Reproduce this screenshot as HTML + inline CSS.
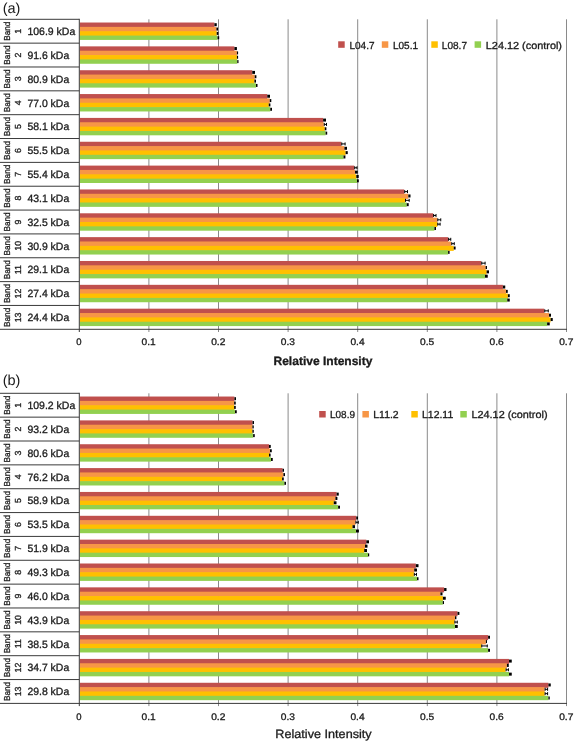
<!DOCTYPE html>
<html lang="en">
<head>
<meta charset="utf-8">
<title>Relative Intensity of protein bands</title>
<style>
html,body{margin:0;padding:0;background:#fff;}
body{width:576px;height:741px;overflow:hidden;}
svg{display:block;will-change:transform;}
svg text{font-family:"Liberation Sans",Arial,sans-serif;stroke:#1a1a1a;stroke-width:0.3px;text-rendering:geometricPrecision;}
</style>
</head>
<body>
<svg width="576" height="741" viewBox="0 0 576 741">
<rect x="0" y="0" width="576" height="741" fill="#ffffff"/>
<g>
<line x1="148.9" y1="19.3" x2="148.9" y2="332" stroke="#8a8a8a" stroke-width="1"/>
<line x1="218.5" y1="19.3" x2="218.5" y2="332" stroke="#8a8a8a" stroke-width="1"/>
<line x1="288.1" y1="19.3" x2="288.1" y2="332" stroke="#8a8a8a" stroke-width="1"/>
<line x1="357.7" y1="19.3" x2="357.7" y2="332" stroke="#8a8a8a" stroke-width="1"/>
<line x1="427.3" y1="19.3" x2="427.3" y2="332" stroke="#8a8a8a" stroke-width="1"/>
<line x1="496.9" y1="19.3" x2="496.9" y2="332" stroke="#8a8a8a" stroke-width="1"/>
<line x1="566.5" y1="19.3" x2="566.5" y2="332" stroke="#8a8a8a" stroke-width="1"/>
<rect x="79.8" y="22.52" width="134.6" height="5.05" fill="#C0504D"/>
<rect x="79.8" y="26.87" width="136.6" height="5.05" fill="#F79646"/>
<rect x="79.8" y="31.22" width="136.9" height="5.05" fill="#FFC000"/>
<rect x="79.8" y="35.57" width="137.7" height="4.35" fill="#92D050"/>
<rect x="214.4" y="23.2" width="2.35" height="3" fill="#000"/>
<rect x="216.4" y="27.55" width="1.6" height="3" fill="#000"/>
<rect x="216.7" y="31.9" width="1.7" height="3" fill="#000"/>
<rect x="217.5" y="36.25" width="1.7" height="3" fill="#000"/>
<rect x="79.8" y="46.37" width="154.6" height="5.05" fill="#C0504D"/>
<rect x="79.8" y="50.72" width="157.1" height="5.05" fill="#F79646"/>
<rect x="79.8" y="55.07" width="157.1" height="5.05" fill="#FFC000"/>
<rect x="79.8" y="59.42" width="157.45" height="4.35" fill="#92D050"/>
<rect x="234.4" y="47.04" width="2.5" height="3" fill="#000"/>
<rect x="236.9" y="51.39" width="1.2" height="3" fill="#000"/>
<rect x="236.9" y="55.74" width="1.2" height="3" fill="#000"/>
<rect x="237.25" y="60.09" width="1.25" height="3" fill="#000"/>
<rect x="79.8" y="70.22" width="172.45" height="5.05" fill="#C0504D"/>
<rect x="79.8" y="74.57" width="174.95" height="5.05" fill="#F79646"/>
<rect x="79.8" y="78.92" width="174.6" height="5.05" fill="#FFC000"/>
<rect x="79.8" y="83.27" width="176.2" height="4.35" fill="#92D050"/>
<rect x="252.25" y="70.89" width="2.75" height="3" fill="#000"/>
<rect x="254.75" y="75.24" width="1.65" height="3" fill="#000"/>
<rect x="254.4" y="79.59" width="1.6" height="3" fill="#000"/>
<rect x="256" y="83.94" width="1.5" height="3" fill="#000"/>
<rect x="79.8" y="94.06" width="187.45" height="5.05" fill="#C0504D"/>
<rect x="79.8" y="98.41" width="189.95" height="5.05" fill="#F79646"/>
<rect x="79.8" y="102.76" width="188.95" height="5.05" fill="#FFC000"/>
<rect x="79.8" y="107.11" width="190.45" height="4.35" fill="#92D050"/>
<rect x="267.25" y="94.74" width="2.75" height="3" fill="#000"/>
<rect x="269.75" y="99.09" width="1.55" height="3" fill="#000"/>
<rect x="268.75" y="103.44" width="1.65" height="3" fill="#000"/>
<rect x="270.25" y="107.79" width="1.75" height="3" fill="#000"/>
<rect x="79.8" y="117.91" width="243.3" height="5.05" fill="#C0504D"/>
<rect x="79.8" y="122.26" width="243.95" height="5.05" fill="#F79646"/>
<rect x="79.8" y="126.61" width="244.95" height="5.05" fill="#FFC000"/>
<rect x="79.8" y="130.96" width="245.8" height="4.35" fill="#92D050"/>
<rect x="323.1" y="118.58" width="2.9" height="3" fill="#000"/>
<path d="M324.25 122.93v3M326.5 122.93v3M324.25 124.43H326.5" stroke="#000" stroke-width="1" fill="none"/>
<rect x="324.75" y="127.28" width="1.65" height="3" fill="#000"/>
<rect x="325.6" y="131.63" width="1.6" height="3" fill="#000"/>
<rect x="79.8" y="141.75" width="261.45" height="5.05" fill="#C0504D"/>
<rect x="79.8" y="146.1" width="264.6" height="5.05" fill="#F79646"/>
<rect x="79.8" y="150.45" width="265.8" height="5.05" fill="#FFC000"/>
<rect x="79.8" y="154.8" width="263.7" height="4.35" fill="#92D050"/>
<path d="M341.75 142.43v3M345.1 142.43v3M341.75 143.93H345.1" stroke="#000" stroke-width="1" fill="none"/>
<rect x="344.4" y="146.78" width="2.6" height="3" fill="#000"/>
<rect x="345.6" y="151.13" width="2.15" height="3" fill="#000"/>
<rect x="343.5" y="155.48" width="1.9" height="3" fill="#000"/>
<rect x="79.8" y="165.6" width="274.4" height="5.05" fill="#C0504D"/>
<rect x="79.8" y="169.95" width="275.2" height="5.05" fill="#F79646"/>
<rect x="79.8" y="174.3" width="276.5" height="5.05" fill="#FFC000"/>
<rect x="79.8" y="178.65" width="277.2" height="4.35" fill="#92D050"/>
<path d="M354.7 166.28v3M357 166.28v3M354.7 167.78H357" stroke="#000" stroke-width="1" fill="none"/>
<rect x="355" y="170.63" width="2.8" height="3" fill="#000"/>
<rect x="356.3" y="174.98" width="2.4" height="3" fill="#000"/>
<rect x="357" y="179.33" width="1.8" height="3" fill="#000"/>
<rect x="79.8" y="189.45" width="324.4" height="5.05" fill="#C0504D"/>
<rect x="79.8" y="193.8" width="328.5" height="5.05" fill="#F79646"/>
<rect x="79.8" y="198.15" width="325.2" height="5.05" fill="#FFC000"/>
<rect x="79.8" y="202.5" width="326.9" height="4.35" fill="#92D050"/>
<path d="M404.7 190.12v3M407.5 190.12v3M404.7 191.62H407.5" stroke="#000" stroke-width="1" fill="none"/>
<rect x="408.3" y="194.47" width="2.2" height="3" fill="#000"/>
<path d="M405.5 198.82v3M409.2 198.82v3M405.5 200.32H409.2" stroke="#000" stroke-width="1" fill="none"/>
<rect x="406.7" y="203.17" width="2" height="3" fill="#000"/>
<rect x="79.8" y="213.29" width="353.3" height="5.05" fill="#C0504D"/>
<rect x="79.8" y="217.64" width="357.45" height="5.05" fill="#F79646"/>
<rect x="79.8" y="221.99" width="357.45" height="5.05" fill="#FFC000"/>
<rect x="79.8" y="226.34" width="354.6" height="4.35" fill="#92D050"/>
<path d="M433.6 213.97v3M436 213.97v3M433.6 215.47H436" stroke="#000" stroke-width="1" fill="none"/>
<path d="M437.75 218.32v3M440.75 218.32v3M437.75 219.82H440.75" stroke="#000" stroke-width="1" fill="none"/>
<path d="M437.75 222.67v3M440.1 222.67v3M437.75 224.17H440.1" stroke="#000" stroke-width="1" fill="none"/>
<rect x="434.4" y="227.02" width="1.6" height="3" fill="#000"/>
<rect x="79.8" y="237.14" width="368.3" height="5.05" fill="#C0504D"/>
<rect x="79.8" y="241.49" width="371.45" height="5.05" fill="#F79646"/>
<rect x="79.8" y="245.84" width="373.95" height="5.05" fill="#FFC000"/>
<rect x="79.8" y="250.19" width="368.3" height="4.35" fill="#92D050"/>
<path d="M448.6 237.81v3M450.75 237.81v3M448.6 239.31H450.75" stroke="#000" stroke-width="1" fill="none"/>
<path d="M451.75 242.16v3M454.25 242.16v3M451.75 243.66H454.25" stroke="#000" stroke-width="1" fill="none"/>
<rect x="453.75" y="246.51" width="1.85" height="3" fill="#000"/>
<rect x="448.1" y="250.86" width="1.5" height="3" fill="#000"/>
<rect x="79.8" y="260.98" width="401.45" height="5.05" fill="#C0504D"/>
<rect x="79.8" y="265.33" width="405.8" height="5.05" fill="#F79646"/>
<rect x="79.8" y="269.68" width="406.8" height="5.05" fill="#FFC000"/>
<rect x="79.8" y="274.03" width="405.2" height="4.35" fill="#92D050"/>
<path d="M481.75 261.66v3M485.1 261.66v3M481.75 263.16H485.1" stroke="#000" stroke-width="1" fill="none"/>
<rect x="485.6" y="266.01" width="1.4" height="3" fill="#000"/>
<rect x="486.6" y="270.36" width="2.4" height="3" fill="#000"/>
<rect x="485" y="274.71" width="2.75" height="3" fill="#000"/>
<rect x="79.8" y="284.83" width="423.1" height="5.05" fill="#C0504D"/>
<rect x="79.8" y="289.18" width="426.2" height="5.05" fill="#F79646"/>
<rect x="79.8" y="293.53" width="428.1" height="5.05" fill="#FFC000"/>
<rect x="79.8" y="297.88" width="427.45" height="4.35" fill="#92D050"/>
<rect x="502.9" y="285.51" width="2.35" height="3" fill="#000"/>
<rect x="506" y="289.86" width="1.75" height="3" fill="#000"/>
<rect x="507.9" y="294.21" width="1.85" height="3" fill="#000"/>
<rect x="507.25" y="298.56" width="2.5" height="3" fill="#000"/>
<rect x="79.8" y="308.68" width="464.45" height="5.05" fill="#C0504D"/>
<rect x="79.8" y="313.03" width="469.2" height="5.05" fill="#F79646"/>
<rect x="79.8" y="317.38" width="470.8" height="5.05" fill="#FFC000"/>
<rect x="79.8" y="321.73" width="467.3" height="4.35" fill="#92D050"/>
<path d="M544.75 309.35v3M548.25 309.35v3M544.75 310.85H548.25" stroke="#000" stroke-width="1" fill="none"/>
<rect x="549" y="313.7" width="2" height="3" fill="#000"/>
<rect x="550.6" y="318.05" width="2.15" height="3" fill="#000"/>
<rect x="547.1" y="322.4" width="2.65" height="3" fill="#000"/>
<line x1="0" y1="19.3" x2="79.3" y2="19.3" stroke="#3a3a3a" stroke-width="1"/>
<line x1="0" y1="43.15" x2="79.3" y2="43.15" stroke="#3a3a3a" stroke-width="1"/>
<line x1="0" y1="66.99" x2="79.3" y2="66.99" stroke="#3a3a3a" stroke-width="1"/>
<line x1="0" y1="90.84" x2="79.3" y2="90.84" stroke="#3a3a3a" stroke-width="1"/>
<line x1="0" y1="114.68" x2="79.3" y2="114.68" stroke="#3a3a3a" stroke-width="1"/>
<line x1="0" y1="138.53" x2="79.3" y2="138.53" stroke="#3a3a3a" stroke-width="1"/>
<line x1="0" y1="162.38" x2="79.3" y2="162.38" stroke="#3a3a3a" stroke-width="1"/>
<line x1="0" y1="186.22" x2="79.3" y2="186.22" stroke="#3a3a3a" stroke-width="1"/>
<line x1="0" y1="210.07" x2="79.3" y2="210.07" stroke="#3a3a3a" stroke-width="1"/>
<line x1="0" y1="233.92" x2="79.3" y2="233.92" stroke="#3a3a3a" stroke-width="1"/>
<line x1="0" y1="257.76" x2="79.3" y2="257.76" stroke="#3a3a3a" stroke-width="1"/>
<line x1="0" y1="281.61" x2="79.3" y2="281.61" stroke="#3a3a3a" stroke-width="1"/>
<line x1="0" y1="305.45" x2="79.3" y2="305.45" stroke="#3a3a3a" stroke-width="1"/>
<line x1="79.3" y1="18.8" x2="79.3" y2="332" stroke="#3a3a3a" stroke-width="1"/>
<line x1="0" y1="329.3" x2="567" y2="329.3" stroke="#3a3a3a" stroke-width="1"/>
<text transform="translate(9.9 31.22) rotate(-90)" x="-9.6" textLength="19.2" lengthAdjust="spacingAndGlyphs" font-size="8.7" fill="#1a1a1a">Band</text>
<text transform="translate(21.4 31.22) rotate(-90)" text-anchor="middle" font-size="8.8" fill="#1a1a1a">1</text>
<text x="27.4" y="34.97" font-size="10.6" textLength="47.9" lengthAdjust="spacingAndGlyphs" fill="#1a1a1a">106.9 kDa</text>
<text transform="translate(9.9 55.07) rotate(-90)" x="-9.6" textLength="19.2" lengthAdjust="spacingAndGlyphs" font-size="8.7" fill="#1a1a1a">Band</text>
<text transform="translate(21.4 55.07) rotate(-90)" text-anchor="middle" font-size="8.8" fill="#1a1a1a">2</text>
<text x="27.4" y="58.82" font-size="10.6" textLength="41.8" lengthAdjust="spacingAndGlyphs" fill="#1a1a1a">91.6 kDa</text>
<text transform="translate(9.9 78.92) rotate(-90)" x="-9.6" textLength="19.2" lengthAdjust="spacingAndGlyphs" font-size="8.7" fill="#1a1a1a">Band</text>
<text transform="translate(21.4 78.92) rotate(-90)" text-anchor="middle" font-size="8.8" fill="#1a1a1a">3</text>
<text x="27.4" y="82.67" font-size="10.6" textLength="41.8" lengthAdjust="spacingAndGlyphs" fill="#1a1a1a">80.9 kDa</text>
<text transform="translate(9.9 102.76) rotate(-90)" x="-9.6" textLength="19.2" lengthAdjust="spacingAndGlyphs" font-size="8.7" fill="#1a1a1a">Band</text>
<text transform="translate(21.4 102.76) rotate(-90)" text-anchor="middle" font-size="8.8" fill="#1a1a1a">4</text>
<text x="27.4" y="106.51" font-size="10.6" textLength="41.8" lengthAdjust="spacingAndGlyphs" fill="#1a1a1a">77.0 kDa</text>
<text transform="translate(9.9 126.61) rotate(-90)" x="-9.6" textLength="19.2" lengthAdjust="spacingAndGlyphs" font-size="8.7" fill="#1a1a1a">Band</text>
<text transform="translate(21.4 126.61) rotate(-90)" text-anchor="middle" font-size="8.8" fill="#1a1a1a">5</text>
<text x="27.4" y="130.36" font-size="10.6" textLength="41.8" lengthAdjust="spacingAndGlyphs" fill="#1a1a1a">58.1 kDa</text>
<text transform="translate(9.9 150.45) rotate(-90)" x="-9.6" textLength="19.2" lengthAdjust="spacingAndGlyphs" font-size="8.7" fill="#1a1a1a">Band</text>
<text transform="translate(21.4 150.45) rotate(-90)" text-anchor="middle" font-size="8.8" fill="#1a1a1a">6</text>
<text x="27.4" y="154.2" font-size="10.6" textLength="41.8" lengthAdjust="spacingAndGlyphs" fill="#1a1a1a">55.5 kDa</text>
<text transform="translate(9.9 174.3) rotate(-90)" x="-9.6" textLength="19.2" lengthAdjust="spacingAndGlyphs" font-size="8.7" fill="#1a1a1a">Band</text>
<text transform="translate(21.4 174.3) rotate(-90)" text-anchor="middle" font-size="8.8" fill="#1a1a1a">7</text>
<text x="27.4" y="178.05" font-size="10.6" textLength="41.8" lengthAdjust="spacingAndGlyphs" fill="#1a1a1a">55.4 kDa</text>
<text transform="translate(9.9 198.15) rotate(-90)" x="-9.6" textLength="19.2" lengthAdjust="spacingAndGlyphs" font-size="8.7" fill="#1a1a1a">Band</text>
<text transform="translate(21.4 198.15) rotate(-90)" text-anchor="middle" font-size="8.8" fill="#1a1a1a">8</text>
<text x="27.4" y="201.9" font-size="10.6" textLength="41.8" lengthAdjust="spacingAndGlyphs" fill="#1a1a1a">43.1 kDa</text>
<text transform="translate(9.9 221.99) rotate(-90)" x="-9.6" textLength="19.2" lengthAdjust="spacingAndGlyphs" font-size="8.7" fill="#1a1a1a">Band</text>
<text transform="translate(21.4 221.99) rotate(-90)" text-anchor="middle" font-size="8.8" fill="#1a1a1a">9</text>
<text x="27.4" y="225.74" font-size="10.6" textLength="41.8" lengthAdjust="spacingAndGlyphs" fill="#1a1a1a">32.5 kDa</text>
<text transform="translate(9.9 245.84) rotate(-90)" x="-9.6" textLength="19.2" lengthAdjust="spacingAndGlyphs" font-size="8.7" fill="#1a1a1a">Band</text>
<text transform="translate(21.4 245.84) rotate(-90)" text-anchor="middle" font-size="8.8" fill="#1a1a1a">10</text>
<text x="27.4" y="249.59" font-size="10.6" textLength="41.8" lengthAdjust="spacingAndGlyphs" fill="#1a1a1a">30.9 kDa</text>
<text transform="translate(9.9 269.68) rotate(-90)" x="-9.6" textLength="19.2" lengthAdjust="spacingAndGlyphs" font-size="8.7" fill="#1a1a1a">Band</text>
<text transform="translate(21.4 269.68) rotate(-90)" text-anchor="middle" font-size="8.8" fill="#1a1a1a">11</text>
<text x="27.4" y="273.43" font-size="10.6" textLength="41.8" lengthAdjust="spacingAndGlyphs" fill="#1a1a1a">29.1 kDa</text>
<text transform="translate(9.9 293.53) rotate(-90)" x="-9.6" textLength="19.2" lengthAdjust="spacingAndGlyphs" font-size="8.7" fill="#1a1a1a">Band</text>
<text transform="translate(21.4 293.53) rotate(-90)" text-anchor="middle" font-size="8.8" fill="#1a1a1a">12</text>
<text x="27.4" y="297.28" font-size="10.6" textLength="41.8" lengthAdjust="spacingAndGlyphs" fill="#1a1a1a">27.4 kDa</text>
<text transform="translate(9.9 317.38) rotate(-90)" x="-9.6" textLength="19.2" lengthAdjust="spacingAndGlyphs" font-size="8.7" fill="#1a1a1a">Band</text>
<text transform="translate(21.4 317.38) rotate(-90)" text-anchor="middle" font-size="8.8" fill="#1a1a1a">13</text>
<text x="27.4" y="321.13" font-size="10.6" textLength="41.8" lengthAdjust="spacingAndGlyphs" fill="#1a1a1a">24.4 kDa</text>
<text x="78.8" y="345.1" text-anchor="middle" font-size="9.5" fill="#1a1a1a">0</text>
<text x="141.6" y="345.1" textLength="14.2" lengthAdjust="spacingAndGlyphs" font-size="9.5" fill="#1a1a1a">0.1</text>
<text x="211.2" y="345.1" textLength="14.2" lengthAdjust="spacingAndGlyphs" font-size="9.5" fill="#1a1a1a">0.2</text>
<text x="280.8" y="345.1" textLength="14.2" lengthAdjust="spacingAndGlyphs" font-size="9.5" fill="#1a1a1a">0.3</text>
<text x="350.4" y="345.1" textLength="14.2" lengthAdjust="spacingAndGlyphs" font-size="9.5" fill="#1a1a1a">0.4</text>
<text x="420" y="345.1" textLength="14.2" lengthAdjust="spacingAndGlyphs" font-size="9.5" fill="#1a1a1a">0.5</text>
<text x="489.6" y="345.1" textLength="14.2" lengthAdjust="spacingAndGlyphs" font-size="9.5" fill="#1a1a1a">0.6</text>
<text x="559.2" y="345.1" textLength="14.2" lengthAdjust="spacingAndGlyphs" font-size="9.5" fill="#1a1a1a">0.7</text>
<text x="273.5" y="365" font-size="12" font-weight="bold" textLength="98.9" lengthAdjust="spacingAndGlyphs" fill="#1a1a1a">Relative Intensity</text>
<rect x="338.2" y="41.3" width="6.5" height="6.5" fill="#C0504D"/>
<text x="349.5" y="48.5" font-size="10.2" textLength="25" lengthAdjust="spacingAndGlyphs" fill="#1a1a1a">L04.7</text>
<rect x="381.8" y="41.3" width="6.5" height="6.5" fill="#F79646"/>
<text x="393" y="48.5" font-size="10.2" textLength="25" lengthAdjust="spacingAndGlyphs" fill="#1a1a1a">L05.1</text>
<rect x="431.3" y="41.3" width="6.5" height="6.5" fill="#FFC000"/>
<text x="441.8" y="48.5" font-size="10.2" textLength="25.2" lengthAdjust="spacingAndGlyphs" fill="#1a1a1a">L08.7</text>
<rect x="474.6" y="41.3" width="6.5" height="6.5" fill="#92D050"/>
<text x="485.8" y="48.5" font-size="10.2" textLength="76.2" lengthAdjust="spacingAndGlyphs" fill="#1a1a1a">L24.12 (control)</text>
<text x="2.7" y="12.5" font-size="14.5" style="stroke:none" fill="#1a1a1a">(a)</text>
</g>
<g>
<line x1="148.9" y1="393.3" x2="148.9" y2="706.1" stroke="#8a8a8a" stroke-width="1"/>
<line x1="218.5" y1="393.3" x2="218.5" y2="706.1" stroke="#8a8a8a" stroke-width="1"/>
<line x1="288.1" y1="393.3" x2="288.1" y2="706.1" stroke="#8a8a8a" stroke-width="1"/>
<line x1="357.7" y1="393.3" x2="357.7" y2="706.1" stroke="#8a8a8a" stroke-width="1"/>
<line x1="427.3" y1="393.3" x2="427.3" y2="706.1" stroke="#8a8a8a" stroke-width="1"/>
<line x1="496.9" y1="393.3" x2="496.9" y2="706.1" stroke="#8a8a8a" stroke-width="1"/>
<line x1="566.5" y1="393.3" x2="566.5" y2="706.1" stroke="#8a8a8a" stroke-width="1"/>
<rect x="79.8" y="396.53" width="154.6" height="5.05" fill="#C0504D"/>
<rect x="79.8" y="400.88" width="154.3" height="5.05" fill="#F79646"/>
<rect x="79.8" y="405.23" width="154.3" height="5.05" fill="#FFC000"/>
<rect x="79.8" y="409.58" width="155.2" height="4.35" fill="#92D050"/>
<rect x="234.4" y="397.2" width="1.6" height="3" fill="#000"/>
<rect x="234.1" y="401.55" width="1.65" height="3" fill="#000"/>
<rect x="234.1" y="405.9" width="1.65" height="3" fill="#000"/>
<rect x="235" y="410.25" width="1.75" height="3" fill="#000"/>
<rect x="79.8" y="420.38" width="172.7" height="5.05" fill="#C0504D"/>
<rect x="79.8" y="424.73" width="172.6" height="5.05" fill="#F79646"/>
<rect x="79.8" y="429.08" width="172.6" height="5.05" fill="#FFC000"/>
<rect x="79.8" y="433.43" width="173.3" height="4.35" fill="#92D050"/>
<rect x="252.5" y="421.06" width="1.5" height="3" fill="#000"/>
<rect x="252.4" y="425.41" width="1.35" height="3" fill="#000"/>
<rect x="252.4" y="429.76" width="1.35" height="3" fill="#000"/>
<rect x="253.1" y="434.11" width="1.65" height="3" fill="#000"/>
<rect x="79.8" y="444.23" width="189.2" height="5.05" fill="#C0504D"/>
<rect x="79.8" y="448.58" width="190.2" height="5.05" fill="#F79646"/>
<rect x="79.8" y="452.93" width="189.2" height="5.05" fill="#FFC000"/>
<rect x="79.8" y="457.28" width="191.2" height="4.35" fill="#92D050"/>
<rect x="269" y="444.91" width="1.75" height="3" fill="#000"/>
<rect x="270" y="449.26" width="1.75" height="3" fill="#000"/>
<rect x="269" y="453.61" width="1.6" height="3" fill="#000"/>
<rect x="271" y="457.96" width="1.75" height="3" fill="#000"/>
<rect x="79.8" y="468.09" width="202.7" height="5.05" fill="#C0504D"/>
<rect x="79.8" y="472.44" width="203.6" height="5.05" fill="#F79646"/>
<rect x="79.8" y="476.79" width="202.3" height="5.05" fill="#FFC000"/>
<rect x="79.8" y="481.14" width="204.6" height="4.35" fill="#92D050"/>
<rect x="282.5" y="468.76" width="1.5" height="3" fill="#000"/>
<rect x="283.4" y="473.11" width="1.6" height="3" fill="#000"/>
<rect x="282.1" y="477.46" width="1.65" height="3" fill="#000"/>
<rect x="284.4" y="481.81" width="1.6" height="3" fill="#000"/>
<rect x="79.8" y="491.94" width="256.8" height="5.05" fill="#C0504D"/>
<rect x="79.8" y="496.29" width="255.6" height="5.05" fill="#F79646"/>
<rect x="79.8" y="500.64" width="253.95" height="5.05" fill="#FFC000"/>
<rect x="79.8" y="504.99" width="258.3" height="4.35" fill="#92D050"/>
<rect x="336.6" y="492.62" width="2.15" height="3" fill="#000"/>
<rect x="335.4" y="496.97" width="2" height="3" fill="#000"/>
<rect x="333.75" y="501.32" width="2.75" height="3" fill="#000"/>
<rect x="338.1" y="505.67" width="1.9" height="3" fill="#000"/>
<rect x="79.8" y="515.8" width="276.45" height="5.05" fill="#C0504D"/>
<rect x="79.8" y="520.15" width="275.6" height="5.05" fill="#F79646"/>
<rect x="79.8" y="524.5" width="272.7" height="5.05" fill="#FFC000"/>
<rect x="79.8" y="528.85" width="276.2" height="4.35" fill="#92D050"/>
<rect x="356.25" y="516.47" width="1.75" height="3" fill="#000"/>
<path d="M355.9 520.82v3M358.25 520.82v3M355.9 522.32H358.25" stroke="#000" stroke-width="1" fill="none"/>
<rect x="352.5" y="525.17" width="2.5" height="3" fill="#000"/>
<rect x="356" y="529.52" width="2.9" height="3" fill="#000"/>
<rect x="79.8" y="539.65" width="286.5" height="5.05" fill="#C0504D"/>
<rect x="79.8" y="544" width="285.2" height="5.05" fill="#F79646"/>
<rect x="79.8" y="548.35" width="284.4" height="5.05" fill="#FFC000"/>
<rect x="79.8" y="552.7" width="288.2" height="4.35" fill="#92D050"/>
<rect x="366.3" y="540.32" width="2.7" height="3" fill="#000"/>
<rect x="365" y="544.67" width="2.5" height="3" fill="#000"/>
<rect x="364.2" y="549.02" width="2.8" height="3" fill="#000"/>
<rect x="368" y="553.37" width="1.2" height="3" fill="#000"/>
<rect x="79.8" y="563.5" width="336" height="5.05" fill="#C0504D"/>
<rect x="79.8" y="567.85" width="334.4" height="5.05" fill="#F79646"/>
<rect x="79.8" y="572.2" width="334" height="5.05" fill="#FFC000"/>
<rect x="79.8" y="576.55" width="337.2" height="4.35" fill="#92D050"/>
<rect x="415.8" y="564.18" width="2.7" height="3" fill="#000"/>
<rect x="414.2" y="568.53" width="2.8" height="3" fill="#000"/>
<path d="M414.3 572.88v3M416.5 572.88v3M414.3 574.38H416.5" stroke="#000" stroke-width="1" fill="none"/>
<rect x="417" y="577.23" width="1.5" height="3" fill="#000"/>
<rect x="79.8" y="587.36" width="364.3" height="5.05" fill="#C0504D"/>
<rect x="79.8" y="591.71" width="360.6" height="5.05" fill="#F79646"/>
<rect x="79.8" y="596.06" width="363.1" height="5.05" fill="#FFC000"/>
<rect x="79.8" y="600.41" width="362.95" height="4.35" fill="#92D050"/>
<rect x="444.1" y="588.03" width="2.4" height="3" fill="#000"/>
<rect x="440.4" y="592.38" width="2.1" height="3" fill="#000"/>
<rect x="442.9" y="596.73" width="2.85" height="3" fill="#000"/>
<rect x="442.75" y="601.08" width="1.25" height="3" fill="#000"/>
<rect x="79.8" y="611.21" width="377.7" height="5.05" fill="#C0504D"/>
<rect x="79.8" y="615.56" width="375.2" height="5.05" fill="#F79646"/>
<rect x="79.8" y="619.91" width="374.6" height="5.05" fill="#FFC000"/>
<rect x="79.8" y="624.26" width="375.2" height="4.35" fill="#92D050"/>
<rect x="457.5" y="611.89" width="1.9" height="3" fill="#000"/>
<rect x="455" y="616.24" width="1.4" height="3" fill="#000"/>
<path d="M454.9 620.59v3M457.25 620.59v3M454.9 622.09H457.25" stroke="#000" stroke-width="1" fill="none"/>
<rect x="455" y="624.94" width="2.75" height="3" fill="#000"/>
<rect x="79.8" y="635.07" width="408.3" height="5.05" fill="#C0504D"/>
<rect x="79.8" y="639.42" width="406.1" height="5.05" fill="#F79646"/>
<rect x="79.8" y="643.77" width="401.45" height="5.05" fill="#FFC000"/>
<rect x="79.8" y="648.12" width="408.3" height="4.35" fill="#92D050"/>
<rect x="488.1" y="635.74" width="1.9" height="3" fill="#000"/>
<rect x="485.9" y="640.09" width="1.1" height="3" fill="#000"/>
<path d="M481.75 644.44v3M487.25 644.44v3M481.75 645.94H487.25" stroke="#000" stroke-width="1" fill="none"/>
<rect x="488.1" y="648.79" width="1.9" height="3" fill="#000"/>
<rect x="79.8" y="658.92" width="429.2" height="5.05" fill="#C0504D"/>
<rect x="79.8" y="663.27" width="427.1" height="5.05" fill="#F79646"/>
<rect x="79.8" y="667.62" width="425.8" height="5.05" fill="#FFC000"/>
<rect x="79.8" y="671.97" width="429.2" height="4.35" fill="#92D050"/>
<rect x="509" y="659.59" width="2.75" height="3" fill="#000"/>
<rect x="506.9" y="663.94" width="1.85" height="3" fill="#000"/>
<path d="M506.1 668.29v3M508.4 668.29v3M506.1 669.79H508.4" stroke="#000" stroke-width="1" fill="none"/>
<rect x="509" y="672.64" width="2.75" height="3" fill="#000"/>
<rect x="79.8" y="682.77" width="468.6" height="5.05" fill="#C0504D"/>
<rect x="79.8" y="687.12" width="464.8" height="5.05" fill="#F79646"/>
<rect x="79.8" y="691.47" width="464.8" height="5.05" fill="#FFC000"/>
<rect x="79.8" y="695.82" width="468.6" height="4.35" fill="#92D050"/>
<rect x="548.4" y="683.45" width="2.35" height="3" fill="#000"/>
<path d="M545.1 687.8v3M547.6 687.8v3M545.1 689.3H547.6" stroke="#000" stroke-width="1" fill="none"/>
<path d="M545.1 692.15v3M547.6 692.15v3M545.1 693.65H547.6" stroke="#000" stroke-width="1" fill="none"/>
<rect x="548.4" y="696.5" width="1.35" height="3" fill="#000"/>
<line x1="0" y1="393.3" x2="79.3" y2="393.3" stroke="#3a3a3a" stroke-width="1"/>
<line x1="0" y1="417.15" x2="79.3" y2="417.15" stroke="#3a3a3a" stroke-width="1"/>
<line x1="0" y1="441.01" x2="79.3" y2="441.01" stroke="#3a3a3a" stroke-width="1"/>
<line x1="0" y1="464.86" x2="79.3" y2="464.86" stroke="#3a3a3a" stroke-width="1"/>
<line x1="0" y1="488.72" x2="79.3" y2="488.72" stroke="#3a3a3a" stroke-width="1"/>
<line x1="0" y1="512.57" x2="79.3" y2="512.57" stroke="#3a3a3a" stroke-width="1"/>
<line x1="0" y1="536.42" x2="79.3" y2="536.42" stroke="#3a3a3a" stroke-width="1"/>
<line x1="0" y1="560.28" x2="79.3" y2="560.28" stroke="#3a3a3a" stroke-width="1"/>
<line x1="0" y1="584.13" x2="79.3" y2="584.13" stroke="#3a3a3a" stroke-width="1"/>
<line x1="0" y1="607.98" x2="79.3" y2="607.98" stroke="#3a3a3a" stroke-width="1"/>
<line x1="0" y1="631.84" x2="79.3" y2="631.84" stroke="#3a3a3a" stroke-width="1"/>
<line x1="0" y1="655.69" x2="79.3" y2="655.69" stroke="#3a3a3a" stroke-width="1"/>
<line x1="0" y1="679.55" x2="79.3" y2="679.55" stroke="#3a3a3a" stroke-width="1"/>
<line x1="79.3" y1="392.8" x2="79.3" y2="706.1" stroke="#3a3a3a" stroke-width="1"/>
<line x1="0" y1="703.4" x2="567" y2="703.4" stroke="#3a3a3a" stroke-width="1"/>
<text transform="translate(9.9 405.23) rotate(-90)" x="-9.6" textLength="19.2" lengthAdjust="spacingAndGlyphs" font-size="8.7" fill="#1a1a1a">Band</text>
<text transform="translate(21.4 405.23) rotate(-90)" text-anchor="middle" font-size="8.8" fill="#1a1a1a">1</text>
<text x="27.4" y="408.98" font-size="10.6" textLength="47.9" lengthAdjust="spacingAndGlyphs" fill="#1a1a1a">109.2 kDa</text>
<text transform="translate(9.9 429.08) rotate(-90)" x="-9.6" textLength="19.2" lengthAdjust="spacingAndGlyphs" font-size="8.7" fill="#1a1a1a">Band</text>
<text transform="translate(21.4 429.08) rotate(-90)" text-anchor="middle" font-size="8.8" fill="#1a1a1a">2</text>
<text x="27.4" y="432.83" font-size="10.6" textLength="41.8" lengthAdjust="spacingAndGlyphs" fill="#1a1a1a">93.2 kDa</text>
<text transform="translate(9.9 452.93) rotate(-90)" x="-9.6" textLength="19.2" lengthAdjust="spacingAndGlyphs" font-size="8.7" fill="#1a1a1a">Band</text>
<text transform="translate(21.4 452.93) rotate(-90)" text-anchor="middle" font-size="8.8" fill="#1a1a1a">3</text>
<text x="27.4" y="456.68" font-size="10.6" textLength="41.8" lengthAdjust="spacingAndGlyphs" fill="#1a1a1a">80.6 kDa</text>
<text transform="translate(9.9 476.79) rotate(-90)" x="-9.6" textLength="19.2" lengthAdjust="spacingAndGlyphs" font-size="8.7" fill="#1a1a1a">Band</text>
<text transform="translate(21.4 476.79) rotate(-90)" text-anchor="middle" font-size="8.8" fill="#1a1a1a">4</text>
<text x="27.4" y="480.54" font-size="10.6" textLength="41.8" lengthAdjust="spacingAndGlyphs" fill="#1a1a1a">76.2 kDa</text>
<text transform="translate(9.9 500.64) rotate(-90)" x="-9.6" textLength="19.2" lengthAdjust="spacingAndGlyphs" font-size="8.7" fill="#1a1a1a">Band</text>
<text transform="translate(21.4 500.64) rotate(-90)" text-anchor="middle" font-size="8.8" fill="#1a1a1a">5</text>
<text x="27.4" y="504.39" font-size="10.6" textLength="41.8" lengthAdjust="spacingAndGlyphs" fill="#1a1a1a">58.9 kDa</text>
<text transform="translate(9.9 524.5) rotate(-90)" x="-9.6" textLength="19.2" lengthAdjust="spacingAndGlyphs" font-size="8.7" fill="#1a1a1a">Band</text>
<text transform="translate(21.4 524.5) rotate(-90)" text-anchor="middle" font-size="8.8" fill="#1a1a1a">6</text>
<text x="27.4" y="528.25" font-size="10.6" textLength="41.8" lengthAdjust="spacingAndGlyphs" fill="#1a1a1a">53.5 kDa</text>
<text transform="translate(9.9 548.35) rotate(-90)" x="-9.6" textLength="19.2" lengthAdjust="spacingAndGlyphs" font-size="8.7" fill="#1a1a1a">Band</text>
<text transform="translate(21.4 548.35) rotate(-90)" text-anchor="middle" font-size="8.8" fill="#1a1a1a">7</text>
<text x="27.4" y="552.1" font-size="10.6" textLength="41.8" lengthAdjust="spacingAndGlyphs" fill="#1a1a1a">51.9 kDa</text>
<text transform="translate(9.9 572.2) rotate(-90)" x="-9.6" textLength="19.2" lengthAdjust="spacingAndGlyphs" font-size="8.7" fill="#1a1a1a">Band</text>
<text transform="translate(21.4 572.2) rotate(-90)" text-anchor="middle" font-size="8.8" fill="#1a1a1a">8</text>
<text x="27.4" y="575.95" font-size="10.6" textLength="41.8" lengthAdjust="spacingAndGlyphs" fill="#1a1a1a">49.3 kDa</text>
<text transform="translate(9.9 596.06) rotate(-90)" x="-9.6" textLength="19.2" lengthAdjust="spacingAndGlyphs" font-size="8.7" fill="#1a1a1a">Band</text>
<text transform="translate(21.4 596.06) rotate(-90)" text-anchor="middle" font-size="8.8" fill="#1a1a1a">9</text>
<text x="27.4" y="599.81" font-size="10.6" textLength="41.8" lengthAdjust="spacingAndGlyphs" fill="#1a1a1a">46.0 kDa</text>
<text transform="translate(9.9 619.91) rotate(-90)" x="-9.6" textLength="19.2" lengthAdjust="spacingAndGlyphs" font-size="8.7" fill="#1a1a1a">Band</text>
<text transform="translate(21.4 619.91) rotate(-90)" text-anchor="middle" font-size="8.8" fill="#1a1a1a">10</text>
<text x="27.4" y="623.66" font-size="10.6" textLength="41.8" lengthAdjust="spacingAndGlyphs" fill="#1a1a1a">43.9 kDa</text>
<text transform="translate(9.9 643.77) rotate(-90)" x="-9.6" textLength="19.2" lengthAdjust="spacingAndGlyphs" font-size="8.7" fill="#1a1a1a">Band</text>
<text transform="translate(21.4 643.77) rotate(-90)" text-anchor="middle" font-size="8.8" fill="#1a1a1a">11</text>
<text x="27.4" y="647.52" font-size="10.6" textLength="41.8" lengthAdjust="spacingAndGlyphs" fill="#1a1a1a">38.5 kDa</text>
<text transform="translate(9.9 667.62) rotate(-90)" x="-9.6" textLength="19.2" lengthAdjust="spacingAndGlyphs" font-size="8.7" fill="#1a1a1a">Band</text>
<text transform="translate(21.4 667.62) rotate(-90)" text-anchor="middle" font-size="8.8" fill="#1a1a1a">12</text>
<text x="27.4" y="671.37" font-size="10.6" textLength="41.8" lengthAdjust="spacingAndGlyphs" fill="#1a1a1a">34.7 kDa</text>
<text transform="translate(9.9 691.47) rotate(-90)" x="-9.6" textLength="19.2" lengthAdjust="spacingAndGlyphs" font-size="8.7" fill="#1a1a1a">Band</text>
<text transform="translate(21.4 691.47) rotate(-90)" text-anchor="middle" font-size="8.8" fill="#1a1a1a">13</text>
<text x="27.4" y="695.22" font-size="10.6" textLength="41.8" lengthAdjust="spacingAndGlyphs" fill="#1a1a1a">29.8 kDa</text>
<text x="78.8" y="719.5" text-anchor="middle" font-size="9.5" fill="#1a1a1a">0</text>
<text x="141.6" y="719.5" textLength="14.2" lengthAdjust="spacingAndGlyphs" font-size="9.5" fill="#1a1a1a">0.1</text>
<text x="211.2" y="719.5" textLength="14.2" lengthAdjust="spacingAndGlyphs" font-size="9.5" fill="#1a1a1a">0.2</text>
<text x="280.8" y="719.5" textLength="14.2" lengthAdjust="spacingAndGlyphs" font-size="9.5" fill="#1a1a1a">0.3</text>
<text x="350.4" y="719.5" textLength="14.2" lengthAdjust="spacingAndGlyphs" font-size="9.5" fill="#1a1a1a">0.4</text>
<text x="420" y="719.5" textLength="14.2" lengthAdjust="spacingAndGlyphs" font-size="9.5" fill="#1a1a1a">0.5</text>
<text x="489.6" y="719.5" textLength="14.2" lengthAdjust="spacingAndGlyphs" font-size="9.5" fill="#1a1a1a">0.6</text>
<text x="559.2" y="719.5" textLength="14.2" lengthAdjust="spacingAndGlyphs" font-size="9.5" fill="#1a1a1a">0.7</text>
<text x="275.3" y="737.8" font-size="12"  textLength="96.4" lengthAdjust="spacingAndGlyphs" fill="#1a1a1a">Relative Intensity</text>
<rect x="319.2" y="411" width="6.5" height="6.5" fill="#C0504D"/>
<text x="330" y="418.2" font-size="10.2" textLength="25" lengthAdjust="spacingAndGlyphs" fill="#1a1a1a">L08.9</text>
<rect x="362.4" y="411" width="6.5" height="6.5" fill="#F79646"/>
<text x="373.3" y="418.2" font-size="10.2" textLength="25.4" lengthAdjust="spacingAndGlyphs" fill="#1a1a1a">L11.2</text>
<rect x="411.3" y="411" width="6.5" height="6.5" fill="#FFC000"/>
<text x="422" y="418.2" font-size="10.2" textLength="31.2" lengthAdjust="spacingAndGlyphs" fill="#1a1a1a">L12.11</text>
<rect x="460.3" y="411" width="6.5" height="6.5" fill="#92D050"/>
<text x="471.5" y="418.2" font-size="10.2" textLength="76" lengthAdjust="spacingAndGlyphs" fill="#1a1a1a">L24.12 (control)</text>
<text x="2.7" y="384.7" font-size="14.5" style="stroke:none" fill="#1a1a1a">(b)</text>
</g>
</svg>
</body>
</html>
